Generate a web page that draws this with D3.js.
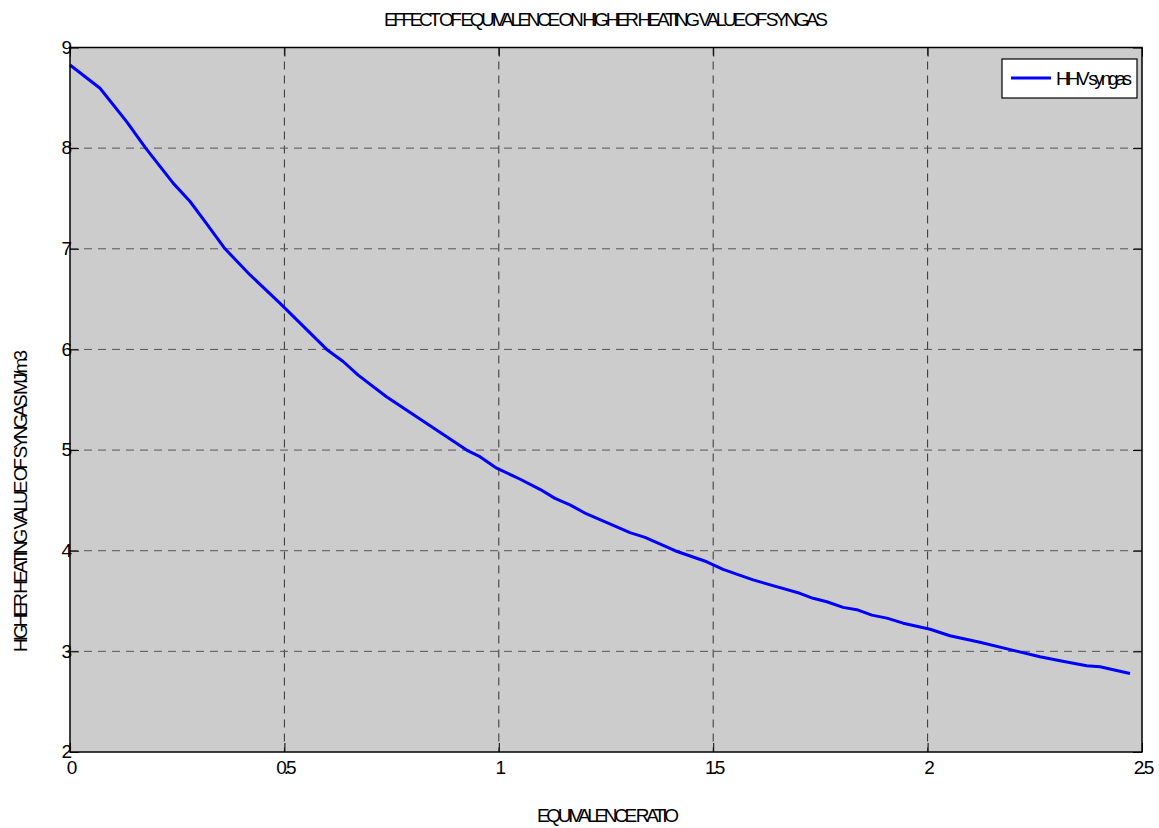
<!DOCTYPE html>
<html>
<head>
<meta charset="utf-8">
<script src="https://cdn.jsdelivr.net/npm/d3@7"></script>
<style>
  body { margin: 0; background: #fff; }
  svg text { font-family: "Liberation Sans", Arial, sans-serif; fill: #000; }
</style>
</head>
<body>
<svg id="chart"></svg>
<script>
// values
const ratio = [0, 0.07, 0.132, 0.1765, 0.241, 0.28, 0.315, 0.3615, 0.42, 0.49, 0.5987, 0.637, 0.672, 0.738,
  0.925, 0.956, 0.995, 1.05, 1.096, 1.131, 1.166, 1.205, 1.306, 1.341, 1.411, 1.485, 1.523, 1.593,
  1.702, 1.733, 1.765, 1.803, 1.838, 1.870, 1.905, 1.943, 2.006, 2.052, 2.122, 2.2, 2.262, 2.309,
  2.371, 2.402, 2.472];
const hhv = [8.826, 8.595, 8.263, 8.0, 7.65, 7.47, 7.27, 7.0, 6.74, 6.458, 6.0, 5.88, 5.745, 5.53,
  5.0, 4.934, 4.82, 4.71, 4.61, 4.52, 4.455, 4.365, 4.18, 4.133, 4.0, 3.89, 3.815, 3.71,
  3.577, 3.527, 3.493, 3.437, 3.41, 3.36, 3.33, 3.28, 3.22, 3.155, 3.09, 3.01, 2.947, 2.907,
  2.857, 2.847, 2.78];
const xTicks = [0, 0.5, 1, 1.5, 2, 2.5];
const yTicks = [2, 3, 4, 5, 6, 7, 8, 9];
const seriesName = 'HHV syngas';
const titleText = 'EFFECT OF EQUIVALENCE ON HIGHER HEATING VALUE OF SYNGAS';
const xTitle = 'EQUIVALENCE RATIO';
const yTitle = 'HIGHER HEATING VALUE OF SYNGAS MJ/m3';

const width = 1159, height = 828;
const margin = {top: 47.5, right: 17, bottom: 76, left: 70};
const w = width - margin.left - margin.right;
const h = height - margin.top - margin.bottom;

const svg = d3.select('#chart').attr('width', width).attr('height', height);
const g = svg.append('g').attr('transform', `translate(${margin.left},${margin.top})`);

const x = d3.scaleLinear().domain([0, 2.5]).range([0, w]);
const y = d3.scaleLinear().domain([2, 9]).range([h, 0]);

// plot background
g.append('rect').attr('width', w).attr('height', h).attr('fill', '#cccccc');

// dashed grid
g.selectAll('.gx').data(xTicks.slice(1, -1)).enter().append('line')
  .attr('x1', d => x(d)).attr('x2', d => x(d)).attr('y1', 0).attr('y2', h)
  .attr('stroke', '#333').attr('stroke-dasharray', '8,6');
g.selectAll('.gy').data(yTicks.slice(1, -1)).enter().append('line')
  .attr('y1', d => y(d)).attr('y2', d => y(d)).attr('x1', 0).attr('x2', w)
  .attr('stroke', '#555').attr('stroke-dasharray', '8,6');

// axes, ticks pointing inward
const fmt = d => String(d);
const xa = g.append('g').attr('transform', `translate(0,${h})`)
  .call(d3.axisBottom(x).tickValues(xTicks).tickFormat(fmt).tickSize(-9).tickPadding(9));
const ya = g.append('g')
  .call(d3.axisLeft(y).tickValues(yTicks).tickFormat(fmt).tickSize(-9).tickPadding(1));
g.append('g').call(d3.axisTop(x).tickValues(xTicks).tickFormat('').tickSize(-9));
g.append('g').attr('transform', `translate(${w},0)`)
  .call(d3.axisRight(y).tickValues(yTicks).tickFormat('').tickSize(-9));

g.selectAll('.domain').remove();
g.selectAll('.tick line').attr('stroke', '#000');
[xa, ya].forEach(a => a.selectAll('text')
  .style('font-size', '19px').style('letter-spacing', '-3px')
  .style('font-family', '"Liberation Sans", Arial, sans-serif').attr('fill', '#000'));
ya.selectAll('text').attr('dy', '0.3em');

// curve
const line = d3.line().x((d, i) => x(ratio[i])).y(d => y(d));
g.append('path').datum(hhv).attr('d', line)
  .attr('fill', 'none').attr('stroke', '#0000ff').attr('stroke-width', 3)
  .attr('stroke-linejoin', 'round');

// box
g.append('rect').attr('width', w).attr('height', h)
  .attr('fill', 'none').attr('stroke', '#000').attr('stroke-width', 1.5);

// legend
const lg = svg.append('g').attr('transform', 'translate(1002,59)');
lg.append('rect').attr('width', 135).attr('height', 39)
  .attr('fill', '#fff').attr('stroke', '#000').attr('stroke-width', 1.2);
lg.append('line').attr('x1', 9).attr('x2', 49).attr('y1', 19).attr('y2', 19)
  .attr('stroke', '#0000ff').attr('stroke-width', 3);
lg.append('text').attr('x', 54).attr('y', 26).style('font-size', '19px')
  .attr('textLength', 76).attr('lengthAdjust', 'spacing').text(seriesName);

// titles
svg.append('text').attr('x', 606).attr('y', 26).attr('text-anchor', 'middle')
  .style('font-size', '19px').attr('textLength', 444).attr('lengthAdjust', 'spacing')
  .text(titleText);
svg.append('text').attr('x', 608).attr('y', 822).attr('text-anchor', 'middle')
  .style('font-size', '19px').attr('textLength', 142).attr('lengthAdjust', 'spacing')
  .text(xTitle);
svg.append('text').attr('transform', 'translate(27,501) rotate(-90)').attr('text-anchor', 'middle')
  .style('font-size', '19px').attr('textLength', 302).attr('lengthAdjust', 'spacing')
  .text(yTitle);
</script>
</body>
</html>
